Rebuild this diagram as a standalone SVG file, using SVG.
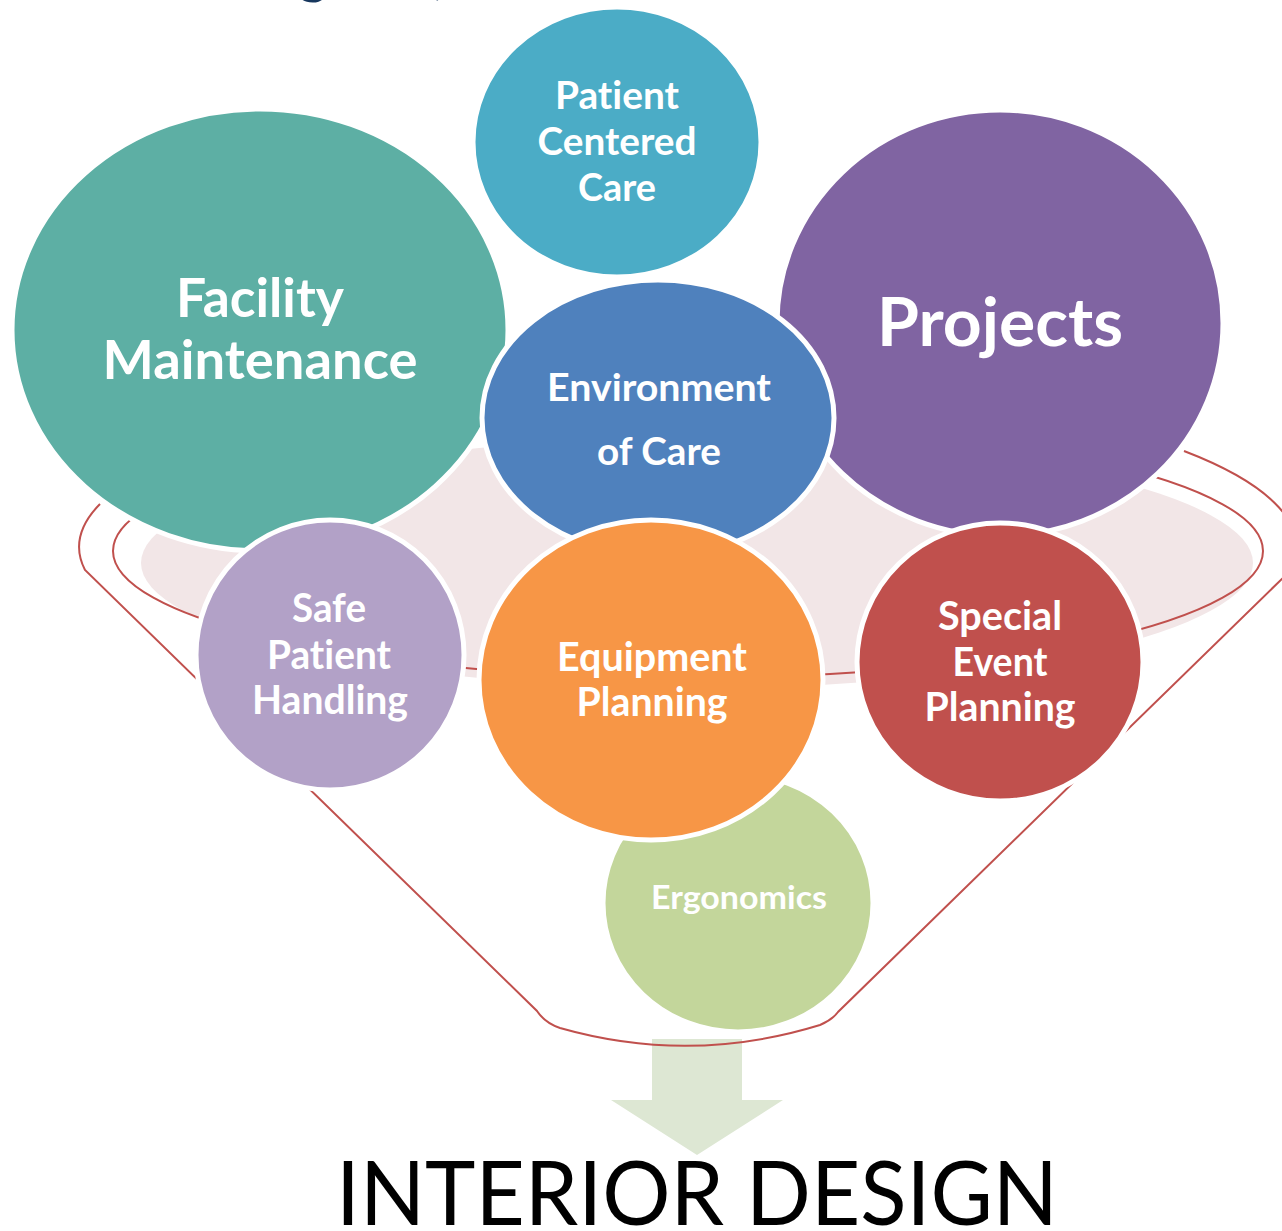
<svg xmlns="http://www.w3.org/2000/svg" width="1282" height="1231" viewBox="0 0 1282 1231">
<style>
.c{stroke:#fff;stroke-width:5}
.t{font-family:Lato,"Open Sans","Liberation Sans",sans-serif;font-weight:700;fill:#fff;text-anchor:middle;font-variant-ligatures:none;font-feature-settings:"liga" 0}
.r{fill:none;stroke:#C0504D;stroke-width:2}
</style>
<rect width="1282" height="1231" fill="#fff"/>
<g id="title">
<text x="313" y="-8" font-family="Lato,'Liberation Sans',sans-serif" font-size="60" fill="#17375E" text-anchor="middle">g</text>
<text x="434" y="-8" font-family="Lato,'Liberation Sans',sans-serif" font-size="60" fill="#17375E" text-anchor="middle">(</text>
</g>
<g id="funnel">
<ellipse cx="697" cy="563" rx="556" ry="125" fill="#F2E6E7"/>
<ellipse cx="688" cy="551" rx="575" ry="127" class="r"/>
</g>
<g id="arrow">
<path d="M652,1039 H742 V1100 H783 L697,1155 L611,1100 H652 Z" fill="#DDE7D3"/>
</g>
<g id="connectors">
<path class="r" d="M100,504 A609,166 0 0 0 85,570 L537,1011 Q545,1023 560,1028 Q690,1065 820,1025 Q832,1020 838,1012 L1291,570 A609,166 0 0 0 1184,451"/>
</g>
<g id="facility">
<ellipse class="c" cx="260" cy="330" rx="248" ry="221" fill="#5DAFA4"/>
<text class="t" x="260" y="317" font-size="53" textLength="168" lengthAdjust="spacingAndGlyphs">Facility</text>
<text class="t" x="260" y="379" font-size="53" textLength="315" lengthAdjust="spacingAndGlyphs">Maintenance</text>
</g>
<g id="projects">
<ellipse class="c" cx="1000" cy="323" rx="223" ry="213" fill="#8064A2"/>
<text class="t" x="1000" y="346" font-size="67" textLength="246" lengthAdjust="spacingAndGlyphs">Projects</text>
</g>
<g id="patient-centered">
<ellipse class="c" cx="617" cy="142" rx="144" ry="135" fill="#4BACC6"/>
<text class="t" x="617" y="109" font-size="39" textLength="124" lengthAdjust="spacingAndGlyphs">Patient</text>
<text class="t" x="617" y="155" font-size="39" textLength="159" lengthAdjust="spacingAndGlyphs">Centered</text>
<text class="t" x="617" y="201" font-size="39" textLength="78" lengthAdjust="spacingAndGlyphs">Care</text>
</g>
<g id="environment">
<ellipse class="c" cx="658" cy="418" rx="176" ry="138" fill="#4F81BD"/>
<text class="t" x="659" y="401" font-size="38" textLength="224" lengthAdjust="spacingAndGlyphs">Environment</text>
<text class="t" x="659" y="465" font-size="38" textLength="124" lengthAdjust="spacingAndGlyphs">of Care</text>
</g>
<g id="ergonomics">
<ellipse class="c" cx="738" cy="903" rx="135" ry="129" fill="#C3D69B"/>
<text class="t" x="739" y="909" font-size="33" textLength="176" lengthAdjust="spacingAndGlyphs">Ergonomics</text>
</g>
<g id="safe-patient">
<ellipse class="c" cx="330" cy="655" rx="134" ry="135" fill="#B2A1C7"/>
<text class="t" x="329" y="622" font-size="40" textLength="74" lengthAdjust="spacingAndGlyphs">Safe</text>
<text class="t" x="329" y="669" font-size="40" textLength="124" lengthAdjust="spacingAndGlyphs">Patient</text>
<text class="t" x="330" y="714" font-size="40" textLength="156" lengthAdjust="spacingAndGlyphs">Handling</text>
</g>
<g id="special-event">
<ellipse class="c" cx="1000" cy="662" rx="143" ry="139" fill="#C0504D"/>
<text class="t" x="1000" y="630" font-size="40" textLength="124" lengthAdjust="spacingAndGlyphs">Special</text>
<text class="t" x="1000" y="676" font-size="40" textLength="95" lengthAdjust="spacingAndGlyphs">Event</text>
<text class="t" x="1000" y="721" font-size="40" textLength="151" lengthAdjust="spacingAndGlyphs">Planning</text>
</g>
<g id="equipment">
<ellipse class="c" cx="651" cy="680" rx="172" ry="160" fill="#F79646"/>
<text class="t" x="652" y="671" font-size="40" textLength="190" lengthAdjust="spacingAndGlyphs">Equipment</text>
<text class="t" x="652" y="716" font-size="40" textLength="151" lengthAdjust="spacingAndGlyphs">Planning</text>
</g>
<g id="interior-design">
<text x="697" y="1225" font-family="Lato,'Liberation Sans',sans-serif" font-size="89" fill="#000" text-anchor="middle" textLength="722" lengthAdjust="spacingAndGlyphs">INTERIOR DESIGN</text>
</g>
</svg>
